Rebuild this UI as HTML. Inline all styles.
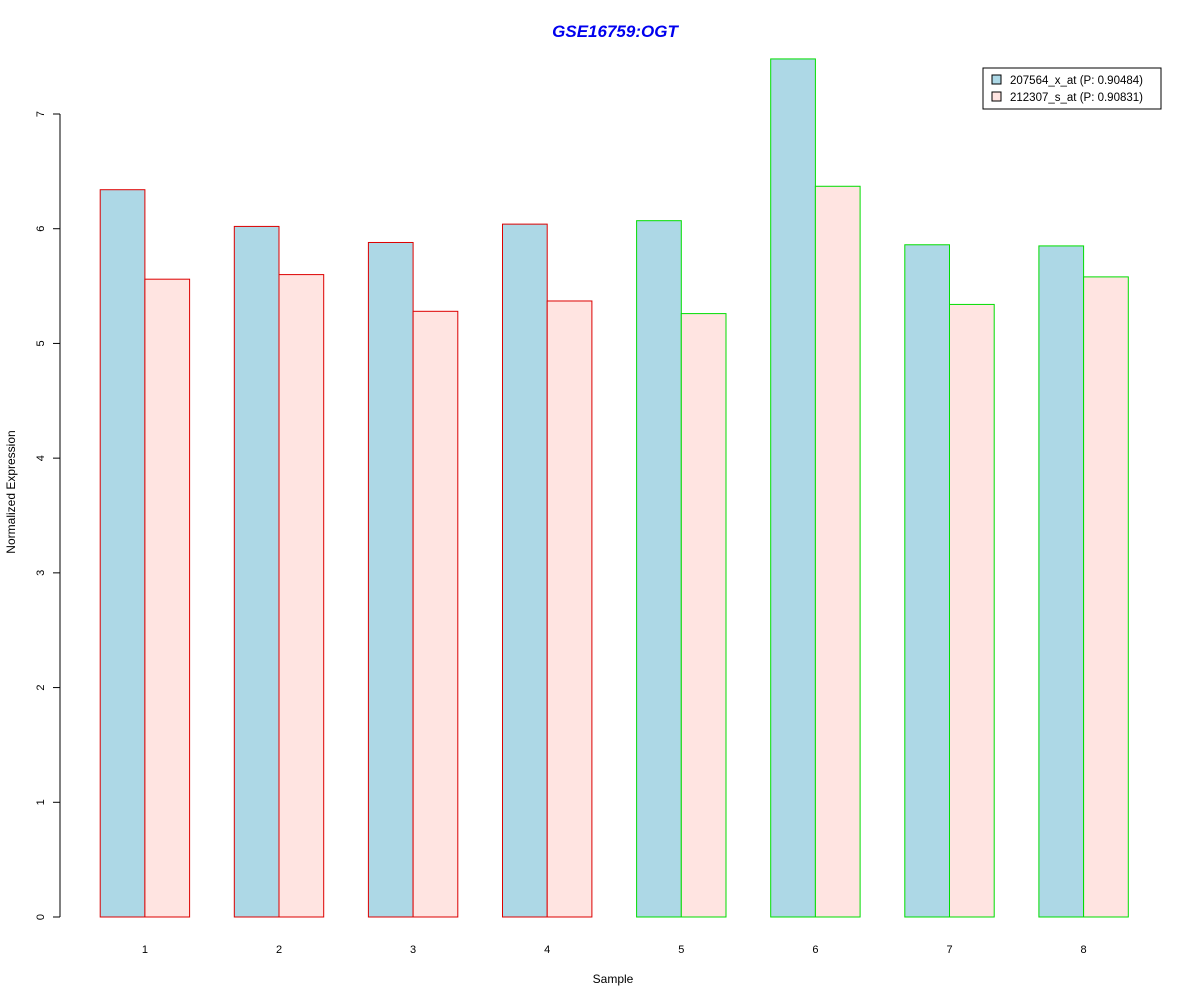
<!DOCTYPE html>
<html><head><meta charset="utf-8"><style>
body{margin:0;background:#fff;}
svg{display:block;font-family:"Liberation Sans",Arial,sans-serif;}
</style></head><body>
<svg id="chart" width="1200" height="1000" viewBox="0 0 1200 1000" xmlns="http://www.w3.org/2000/svg">
<rect width="1200" height="1000" fill="#fff"/>
<text x="615" y="37" text-anchor="middle" font-size="17" font-weight="bold" font-style="italic" fill="#0000ee">GSE16759:OGT</text>
<g id="bars"></g>
<g id="axis"></g>
<g id="xlabels"></g>
<text transform="translate(15,492) rotate(-90)" text-anchor="middle" font-size="12">Normalized Expression</text>
<text x="613" y="983" text-anchor="middle" font-size="12">Sample</text>
<g>
<rect x="983" y="68" width="178" height="41" fill="#fff" stroke="#000"/>
<rect x="992" y="75" width="9" height="9" fill="#add8e6" stroke="#000"/>
<text x="1010" y="84" font-size="11.5">207564_x_at (P: 0.90484)</text>
<rect x="992" y="92" width="9" height="9" fill="#ffe4e1" stroke="#000"/>
<text x="1010" y="101" font-size="11.5">212307_s_at (P: 0.90831)</text>
</g>
</svg>
<script>
const categories=["1","2","3","4","5","6","7","8"];
const series1=[6.34,6.02,5.88,6.04,6.07,7.48,5.86,5.85];
const series2=[5.56,5.60,5.28,5.37,5.26,6.37,5.34,5.58];
const groupColors=["#dd0000","#dd0000","#dd0000","#dd0000","#00dd00","#00dd00","#00dd00","#00dd00"];
const yTicks=[0,1,2,3,4,5,6,7];
const NS="http://www.w3.org/2000/svg";
const y0=917,yPer=(917-114)/7;
function yS(v){return y0-v*yPer;}
const barW=44.7,groupStep=134.1,x0=100.2;
function xS(i,j){return x0+i*groupStep+j*barW;}
const bars=document.getElementById('bars');
[series1,series2].forEach((s,j)=>{
  s.forEach((v,i)=>{
    const r=document.createElementNS(NS,'rect');
    
    
    r.setAttribute('x',xS(i,j));r.setAttribute('y',yS(v));
    r.setAttribute('width',barW);r.setAttribute('height',y0-yS(v));
    r.setAttribute('fill',j===0?'#add8e6':'#ffe4e1');
    r.setAttribute('stroke',groupColors[i]);r.setAttribute('stroke-width','1');
    bars.appendChild(r);
  });
});
const ax=document.getElementById('axis');
const l=document.createElementNS(NS,'line');


l.setAttribute('x1',60);l.setAttribute('x2',60);l.setAttribute('y1',yS(yTicks[yTicks.length-1]));l.setAttribute('y2',yS(yTicks[0]));l.setAttribute('stroke','#000');
ax.appendChild(l);
yTicks.forEach(t=>{
  const tk=document.createElementNS(NS,'line');
  
  
  tk.setAttribute('x1',53);tk.setAttribute('x2',60);tk.setAttribute('y1',yS(t));tk.setAttribute('y2',yS(t));tk.setAttribute('stroke','#000');
  ax.appendChild(tk);
  const tx=document.createElementNS(NS,'text');
  
  
  tx.setAttribute('transform','translate(44,'+yS(t)+') rotate(-90)');
  tx.setAttribute('text-anchor','middle');tx.setAttribute('font-size','11');
  tx.textContent=t;ax.appendChild(tx);
});
const xl=document.getElementById('xlabels');
categories.forEach((c,i)=>{
  const tx=document.createElementNS(NS,'text');
  
  
  tx.setAttribute('x',xS(i,1));tx.setAttribute('y',953);
  tx.setAttribute('text-anchor','middle');tx.setAttribute('font-size','11');
  tx.textContent=c;xl.appendChild(tx);
});
</script>
</body></html>
